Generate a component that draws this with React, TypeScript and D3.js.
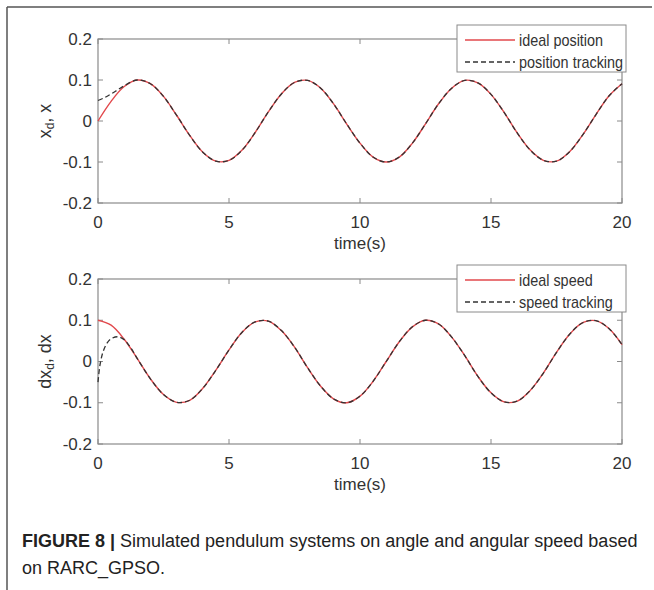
import React from "react";
import * as d3 from "d3";

// ---- data ----
const timeGrid = [0, 0.5, 1, 1.5, 2, 2.5, 3, 3.5, 4, 4.5, 5, 5.5, 6, 6.5, 7, 7.5, 8, 8.5, 9, 9.5, 10,
  10.5, 11, 11.5, 12, 12.5, 13, 13.5, 14, 14.5, 15, 15.5, 16, 16.5, 17, 17.5, 18, 18.5, 19, 19.5, 20];

const idealPosition = [0, 0.048, 0.084, 0.1, 0.091, 0.06, 0.014, -0.035, -0.076, -0.098, -0.096,
  -0.071, -0.028, 0.022, 0.066, 0.094, 0.099, 0.08, 0.041, -0.008, -0.054,
  -0.088, -0.1, -0.088, -0.054, -0.007, 0.042, 0.08, 0.099, 0.093, 0.065,
  0.021, -0.029, -0.071, -0.096, -0.098, -0.075, -0.034, 0.015, 0.061, 0.091];

const idealSpeed = [0.1, 0.088, 0.054, 0.007, -0.042, -0.08, -0.099, -0.094, -0.065, -0.021, 0.028,
  0.071, 0.096, 0.098, 0.075, 0.035, -0.015, -0.06, -0.091, -0.1, -0.084,
  -0.048, 0.0, 0.048, 0.084, 0.1, 0.091, 0.059, 0.014, -0.036, -0.076,
  -0.098, -0.096, -0.07, -0.028, 0.022, 0.066, 0.094, 0.099, 0.08, 0.041];

// start-up transient of the tracking curves; afterwards they follow the ideal curves
const posTrackEarlyTime = [0, 0.25, 0.5, 0.75, 1.0];
const posTrackEarlyValue = [0.05, 0.057, 0.066, 0.076, 0.086];
const spdTrackEarlyTime = [0, 0.05, 0.1, 0.2, 0.35, 0.5, 0.75, 1.0, 1.25];
const spdTrackEarlyValue = [-0.05, -0.02, 0.0, 0.025, 0.045, 0.055, 0.06, 0.053, 0.033];

const xTicks = [0, 5, 10, 15, 20];
const xTickLabels = ["0", "5", "10", "15", "20"];
const yTicks = [-0.2, -0.1, 0, 0.1, 0.2];
const yTickLabels = ["-0.2", "-0.1", "0", "0.1", "0.2"];

type Pt = [number, number];

function zipSeries(t: number[], v: number[]): Pt[] {
  return t.map((tt, i) => [tt, v[i]] as Pt);
}

function trackSeries(earlyT: number[], earlyV: number[], ideal: number[], fromTime: number): Pt[] {
  const early = zipSeries(earlyT, earlyV);
  const rest = zipSeries(timeGrid, ideal).filter((p) => p[0] >= fromTime);
  return early.concat(rest);
}

const FONT = "'Liberation Sans', Arial, Helvetica, sans-serif";
const RED = "#e2484c";
const DASH = "#333333";
const AXIS = "#8a8a8a";
const TXT = "#333333";

const left = 98;
const right = 622;

function Panel(props: {
  top: number;
  bottom: number;
  ideal: Pt[];
  track: Pt[];
  labels: [string, string];
  ylabel: React.ReactNode;
}) {
  const { top, bottom, ideal, track, labels, ylabel } = props;
  const x = d3.scaleLinear().domain([0, 20]).range([left, right]);
  const y = d3.scaleLinear().domain([-0.2, 0.2]).range([bottom, top]);
  const line = d3
    .line<Pt>()
    .x((d) => x(d[0]))
    .y((d) => y(d[1]))
    .curve(d3.curveCatmullRom.alpha(0.5));
  const tl = 5;
  const lgTop = top - 14;
  const lgLeft = 457;
  const lgRight = 626;
  return (
    <g>
      {/* ticks */}
      {xTicks.map((t) => (
        <g key={"xt" + t}>
          <line x1={x(t)} x2={x(t)} y1={bottom} y2={bottom - tl} stroke={AXIS} strokeWidth={1} />
          <line x1={x(t)} x2={x(t)} y1={top} y2={top + tl} stroke={AXIS} strokeWidth={1} />
        </g>
      ))}
      {yTicks.map((t) => (
        <g key={"yt" + t}>
          <line x1={left} x2={left + tl} y1={y(t)} y2={y(t)} stroke={AXIS} strokeWidth={1} />
          <line x1={right} x2={right - tl} y1={y(t)} y2={y(t)} stroke={AXIS} strokeWidth={1} />
        </g>
      ))}
      <rect x={left} y={top} width={right - left} height={bottom - top} fill="none" stroke={AXIS} strokeWidth={1.2} />
      {/* curves */}
      <path d={line(ideal) || ""} fill="none" stroke={RED} strokeWidth={1.4} />
      <path d={line(track) || ""} fill="none" stroke={DASH} strokeWidth={1.3} strokeDasharray="5,3" />
      {/* tick labels */}
      {xTicks.map((t, i) => (
        <text key={"xl" + t} x={x(t)} y={bottom + 19} textAnchor="middle" dominantBaseline="central"
          fontFamily={FONT} fontSize={17} fill={TXT}>
          {xTickLabels[i]}
        </text>
      ))}
      {yTicks.map((t, i) => (
        <text key={"yl" + t} x={left - 6} y={y(t)} textAnchor="end" dominantBaseline="central"
          fontFamily={FONT} fontSize={17} fill={TXT}>
          {yTickLabels[i]}
        </text>
      ))}
      <text x={(left + right) / 2} y={bottom + 40} textAnchor="middle" dominantBaseline="central"
        fontFamily={FONT} fontSize={17} fill={TXT}>
        time(s)
      </text>
      <text transform={`translate(45,${(top + bottom) / 2}) rotate(-90)`} textAnchor="middle"
        dominantBaseline="central" fontFamily={FONT} fontSize={18} fill={TXT}>
        {ylabel}
      </text>
      {/* legend */}
      <rect x={lgLeft} y={lgTop} width={lgRight - lgLeft} height={47} fill="#ffffff" stroke={AXIS} strokeWidth={1} />
      <line x1={465} x2={515} y1={lgTop + 15} y2={lgTop + 15} stroke={RED} strokeWidth={1.4} />
      <line x1={465} x2={515} y1={lgTop + 37} y2={lgTop + 37} stroke={DASH} strokeWidth={1.3} strokeDasharray="5,3" />
      <g transform={`translate(519,0) scale(0.9,1)`}>
        <text x={0} y={lgTop + 15} dominantBaseline="central" fontFamily={FONT} fontSize={16} fill={TXT}>
          {labels[0]}
        </text>
        <text x={0} y={lgTop + 37} dominantBaseline="central" fontFamily={FONT} fontSize={16} fill={TXT}>
          {labels[1]}
        </text>
      </g>
    </g>
  );
}

export default function App() {
  const posIdeal = zipSeries(timeGrid, idealPosition);
  const posTrack = trackSeries(posTrackEarlyTime, posTrackEarlyValue, idealPosition, 1.5);
  const spdIdeal = zipSeries(timeGrid, idealSpeed);
  const spdTrack = trackSeries(spdTrackEarlyTime, spdTrackEarlyValue, idealSpeed, 1.5);
  return (
    <svg width={654} height={590} style={{ position: "absolute", left: 0, top: 0, background: "#fff" }}>
      <rect x={0} y={0} width={654} height={590} fill="#fff" />
      <line x1={7} x2={652} y1={7} y2={7} stroke="#555" strokeWidth={1.5} />
      <line x1={7} x2={7} y1={7} y2={590} stroke="#555" strokeWidth={1.5} />
      <Panel top={39} bottom={203} ideal={posIdeal} track={posTrack}
        labels={["ideal position", "position tracking"]}
        ylabel={<><tspan>x</tspan><tspan fontSize={12} dy={5}>d</tspan><tspan dy={-5}>, x</tspan></>} />
      <Panel top={279} bottom={444} ideal={spdIdeal} track={spdTrack}
        labels={["ideal speed", "speed tracking"]}
        ylabel={<><tspan>dx</tspan><tspan fontSize={12} dy={5}>d</tspan><tspan dy={-5}>, dx</tspan></>} />
      <text x={22} y={541} dominantBaseline="central" fontFamily={FONT} fontSize={18} fill="#222">
        <tspan fontWeight="bold">FIGURE 8 |</tspan>
        <tspan> Simulated pendulum systems on angle and angular speed based</tspan>
      </text>
      <text x={22} y={568} dominantBaseline="central" fontFamily={FONT} fontSize={18} fill="#222">
        on RARC_GPSO.
      </text>
    </svg>
  );
}
